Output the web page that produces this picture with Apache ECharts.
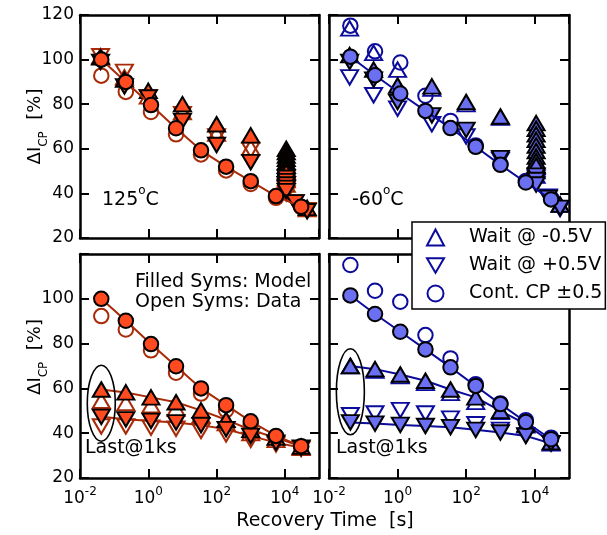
<!DOCTYPE html>
<html><head><meta charset="utf-8">
<script src="https://cdn.jsdelivr.net/npm/echarts@6/dist/echarts.min.js"></script>
<style>html,body{margin:0;padding:0;background:#fff}#c{width:607px;height:535px}</style>
</head><body><div id="c"></div>
<script>
// ---------------- data ----------------
const xRange = [0.01, 100000];
const yTickValues = [20, 40, 60, 80, 100, 120];
const times = [0.042, 0.22, 1.2, 6.5, 35, 190, 1000, 5500, 30000];

// top-left : 125 C
const tlModelCP = [100, 90, 79.6, 69.2, 59.3, 52, 45.5, 38.8, 34];
const tlDataCP  = [92.8, 85.5, 76.5, 66.5, 57.5, 50.3, 44.2, 38, 33.8];
const tlUpModelT = [0.04, 0.2, 1, 10, 100, 1000, 11000, 11000, 11000, 11000, 11000, 11000, 11000, 11000, 45000];
const tlUpModel  = [101, 91, 86, 80, 71, 66, 60, 58.5, 57, 55.5, 54, 52.5, 51, 49.5, 33.5];
const tlDownModelT = [0.04, 0.2, 1, 10, 100, 1000, 11000, 11000, 11000, 11000, 11000, 20000, 45000];
const tlDownModel  = [99, 88, 83, 72.5, 61.7, 54, 47, 45.5, 44, 42.5, 41, 36, 32];
const tlUpDataT = [0.04, 0.2, 1, 10, 100, 1000, 11000, 11000, 11000, 11000, 45000];
const tlUpData  = [101.5, 92, 83.5, 76.5, 66.8, 60.5, 50, 48, 46, 44, 33];
const tlDownDataT = [0.04, 0.2, 1, 10, 100, 1000, 11000, 11000, 11000, 20000, 45000];
const tlDownData  = [101.5, 94.5, 83, 75.5, 65.5, 59.5, 44, 42, 40, 36, 32.5];

// top-right : -60 C
const trModelCP = [101.3, 93, 84.8, 77, 69.3, 60.9, 52.8, 44.9, 37.3];
const trDataCP  = [115.2, 103.7, 98.7, 83.8, 72.5, 61.5, 53.2, 45.6, 38];
const trUpModelT = [0.04, 0.2, 1, 10, 100, 1000, 11000, 11000, 11000, 11000, 11000, 11000, 11000, 11000, 11000, 55000];
const trUpModel  = [102, 95.5, 88.4, 88, 81, 74.5, 71.5, 69, 66.5, 64, 61.5, 59, 56.5, 54.5, 52.5, 35];
const trDownModelT = [0.04, 0.2, 1, 10, 100, 1000, 11000, 11000, 11000, 25000, 55000];
const trDownModel  = [99, 91, 81, 75, 68.5, 55.8, 48, 46, 44, 38, 33.5];
const trUpDataT = [0.04, 0.2, 1, 10, 100, 1000, 11000, 11000, 11000, 55000];
const trUpData  = [114, 103, 95.5, 87, 80, 74, 52, 50, 48, 35];
const trDownDataT = [0.04, 0.2, 1, 10, 100, 1000, 11000, 11000, 25000, 55000];
const trDownData  = [92, 84, 78, 71, 65.5, 55, 47, 45, 38.5, 33];

// bottom-left : 125 C, last @ 1ks
const blModelCP  = [100, 90.2, 79.8, 69.9, 60, 52.5, 45.3, 38.8, 34.2];
const blDataCP   = [92.3, 86.3, 77, 67, 57.7, 50.3, 44, 38, 34];
const blUpModel  = [59.5, 58.2, 56, 53.8, 50.2, 46, 41.5, 38, 34];
const blDownModel= [47.3, 46.2, 45.5, 44.8, 43.6, 41.8, 38.8, 35.8, 33.5];
const blUpData   = [54.5, 53.5, 52.5, 51, 48, 44.5, 40, 37, 33.5];
const blDownData = [43, 43, 42.5, 42, 41, 39.5, 37, 35, 33];

// bottom-right : -60 C, last @ 1ks
const brModelCP  = [101.5, 93.2, 85.3, 77.4, 69.4, 61.1, 53, 45, 37.3];
const brDataCP   = [115.1, 103.6, 98.7, 83.8, 73.4, 61.9, 53.3, 45.8, 38];
const brUpModel  = [70, 68.6, 66.2, 63.4, 59.5, 56, 50, 44, 36];
const brDownModel= [44.8, 44.3, 43.7, 43.2, 42.7, 41.5, 40.3, 38.8, 35.4];
const brUpData   = [70, 68, 65.5, 62.5, 58, 54, 49.5, 43.5, 35.5];
const brDownData = [48, 48.8, 50.3, 48.8, 46.5, 44, 41.5, 39, 35.5];

const legendNames = ['Wait @ -0.5V', 'Wait @ +0.5V', 'Cont. CP \u00b10.5'];

// ---------------- style ----------------
const FONT = 'DejaVu Sans';
const RED = '#ff4b1f', RED_D = '#a82a06', BLUE = '#6b6ff2', NAVY = '#0b0b9c';
const CIRC = 14.5, TRI = [17, 14.5];

const grids = [
  {left: 80, top: 15, width: 239, height: 223},
  {left: 329, top: 15, width: 240, height: 223},
  {left: 80, top: 254, width: 239, height: 224},
  {left: 329, top: 254, width: 240, height: 224}
];

const axisLine = {show: true, onZero: false, lineStyle: {color: '#000', width: 2.5}};
const axisTick = {show: true, inside: true, length: 9, lineStyle: {color: '#000', width: 2}};

function xAx(g, pos, labels) {
  return {
    type: 'log', logBase: 100, gridIndex: g, position: pos,
    min: xRange[0], max: xRange[1],
    axisLine, axisTick, splitLine: {show: false}, minorTick: {show: false},
    axisLabel: {
      show: labels, margin: 8, showMaxLabel: false,
      formatter: v => {
        const e = Math.round(Math.log10(v));
        return (e % 2 === 0) ? '{b|10}{s|' + (e < 0 ? '-' + (-e) : e) + '}' : '';
      },
      rich: {
        b: {fontSize: 17, fontFamily: FONT, color: '#000', lineHeight: 26},
        s: {fontSize: 12, fontFamily: FONT, color: '#000', lineHeight: 12, verticalAlign: 'top'}
      }
    }
  };
}
const yName = '{a|\u0394I}{s|CP}{a|  [%]}';
function yAx(g, pos, labels, hideTop) {
  const ax = {
    type: 'value', gridIndex: g, position: pos,
    min: yTickValues[0], max: yTickValues[yTickValues.length - 1], interval: 20,
    axisLine, axisTick, splitLine: {show: false},
    axisLabel: {
      show: labels, margin: 6, fontSize: 17, fontFamily: FONT, color: '#000',
      formatter: v => (hideTop && v === 120) ? '' : String(v)
    }
  };
  if (labels) {
    ax.name = yName;
    ax.nameLocation = 'middle';
    ax.nameGap = 30;
    ax.nameMoveOverlap = false;
    ax.nameTextStyle = {
      color: '#000',
      padding: hideTop ? [0, 0, 0, 18] : [0, 0, 0, 0],
      rich: {
        a: {fontSize: 18, fontFamily: FONT, color: '#000', lineHeight: 24, verticalAlign: 'top'},
        s: {fontSize: 12, fontFamily: FONT, color: '#000', lineHeight: 12, verticalAlign: 'bottom'}
      }
    };
  }
  return ax;
}

function mk(name, g, xs, ys, o) {
  const s = {
    name, type: o.line ? 'line' : 'scatter', xAxisIndex: g, yAxisIndex: g,
    data: xs.map((x, i) => [x, ys[i]]),
    symbol: o.symbol, symbolRotate: o.rot || 0, symbolSize: o.size,
    itemStyle: {color: o.fill, borderColor: o.stroke, borderWidth: 2, opacity: 1},
    z: o.z, emphasis: {disabled: true}, silent: true, animation: false
  };
  if (o.line) {
    s.showSymbol = true; s.showAllSymbol = true;
    s.lineStyle = {color: o.lineColor, width: 2};
  }
  return s;
}

function panelSeries(g, p, fill, dark, lineTri, names) {
  const out = [];
  // open symbols: data
  out.push(mk(names[0], g, p.upDT, p.upD, {symbol: 'triangle', size: TRI, fill: 'rgba(0,0,0,0)', stroke: dark, z: 2}));
  out.push(mk(names[1], g, p.dnDT, p.dnD, {symbol: 'triangle', rot: 180, size: TRI, fill: 'rgba(0,0,0,0)', stroke: dark, z: 2}));
  out.push(mk(names[2], g, times, p.cpD, {symbol: 'circle', size: CIRC, fill: 'rgba(0,0,0,0)', stroke: dark, z: 2}));
  // filled symbols: model
  out.push(mk('m-up-' + g, g, p.upMT, p.upM, {symbol: 'triangle', size: TRI, fill, stroke: '#000', line: lineTri, lineColor: dark, z: 3}));
  out.push(mk('m-dn-' + g, g, p.dnMT, p.dnM, {symbol: 'triangle', rot: 180, size: TRI, fill, stroke: '#000', line: lineTri, lineColor: dark, z: 3}));
  out.push(mk('m-cp-' + g, g, times, p.cpM, {symbol: 'circle', size: CIRC, fill, stroke: '#000', line: true, lineColor: dark, z: 4}));
  return out;
}

const series = [].concat(
  panelSeries(0, {upDT: tlUpDataT, upD: tlUpData, dnDT: tlDownDataT, dnD: tlDownData, cpD: tlDataCP,
                  upMT: tlUpModelT, upM: tlUpModel, dnMT: tlDownModelT, dnM: tlDownModel, cpM: tlModelCP},
              RED, RED_D, false, ['d-up-0', 'd-dn-0', 'd-cp-0']),
  panelSeries(1, {upDT: trUpDataT, upD: trUpData, dnDT: trDownDataT, dnD: trDownData, cpD: trDataCP,
                  upMT: trUpModelT, upM: trUpModel, dnMT: trDownModelT, dnM: trDownModel, cpM: trModelCP},
              BLUE, NAVY, false, legendNames),
  panelSeries(2, {upDT: times, upD: blUpData, dnDT: times, dnD: blDownData, cpD: blDataCP,
                  upMT: times, upM: blUpModel, dnMT: times, dnM: blDownModel, cpM: blModelCP},
              RED, RED_D, true, ['d-up-2', 'd-dn-2', 'd-cp-2']),
  panelSeries(3, {upDT: times, upD: brUpData, dnDT: times, dnD: brDownData, cpD: brDataCP,
                  upMT: times, upM: brUpModel, dnMT: times, dnM: brDownModel, cpM: brModelCP},
              BLUE, NAVY, true, ['d-up-3', 'd-dn-3', 'd-cp-3'])
);

const chart = echarts.init(document.getElementById('c'), null, {renderer: 'canvas'});
const supRich = {
  a: {fontSize: 19, fontFamily: FONT, fill: '#000', color: '#000', lineHeight: 30},
  s: {fontSize: 12, fontFamily: FONT, fill: '#000', color: '#000', lineHeight: 12, verticalAlign: 'top'}
};
function txt(x, y, text, size, align, rich) {
  return {type: 'text', x, y, z: 30, silent: true,
    style: {text, fontSize: size, fontFamily: FONT, fill: '#000', align: align || 'left', verticalAlign: 'middle', rich}};
}

chart.setOption({
  animation: false,
  backgroundColor: '#fff',
  textStyle: {fontFamily: FONT},
  grid: grids,
  xAxis: [xAx(0, 'bottom', false), xAx(1, 'bottom', false), xAx(2, 'bottom', true), xAx(3, 'bottom', true),
          xAx(0, 'top', false), xAx(1, 'top', false), xAx(2, 'top', false), xAx(3, 'top', false)],
  yAxis: [yAx(0, 'left', true, false), yAx(1, 'left', false), yAx(2, 'left', true, true), yAx(3, 'left', false),
          yAx(0, 'right', false), yAx(1, 'right', false), yAx(2, 'right', false), yAx(3, 'right', false)],
  legend: {
    orient: 'vertical', left: 412, top: 222, itemWidth: 17, itemHeight: 16, itemGap: 9,
    padding: [6, 3, 6, 14], backgroundColor: '#fff', borderColor: '#000', borderWidth: 1.5,
    selectedMode: false, z: 20,
    textStyle: {fontSize: 19, fontFamily: FONT, color: '#000', padding: [0, 0, 0, 20]},
    data: [
      {name: legendNames[0]},
      {name: legendNames[1], icon: 'path://M0,0L20,0L10,17Z'},
      {name: legendNames[2]}
    ]
  },
  series
});

const e1 = chart.convertToPixel({xAxisIndex: 2, yAxisIndex: 2}, [times[0], 53.4]);
const e2 = chart.convertToPixel({xAxisIndex: 3, yAxisIndex: 3}, [times[0], 58.5]);
chart.setOption({
  graphic: [
    {type: 'ellipse', shape: {cx: e1[0], cy: e1[1], rx: 14, ry: 38}, style: {fill: 'none', stroke: '#000', lineWidth: 1.6}, z: 25, silent: true},
    {type: 'ellipse', shape: {cx: e2[0], cy: e2[1], rx: 14, ry: 43}, style: {fill: 'none', stroke: '#000', lineWidth: 1.6}, z: 25, silent: true},
    txt(102, 200, '{a|125}{s|o}{a|C}', 19, 'left', supRich),
    txt(352, 200, '{a|-60}{s|o}{a|C}', 19, 'left', supRich),
    txt(135, 282, 'Filled Syms: Model', 19),
    txt(135, 302, 'Open Syms: Data', 19),
    txt(85, 448, 'Last@1ks', 19),
    txt(336, 448, 'Last@1ks', 19),
    txt(325, 521, 'Recovery Time  [s]', 19, 'center')
  ]
});
</script></body></html>
